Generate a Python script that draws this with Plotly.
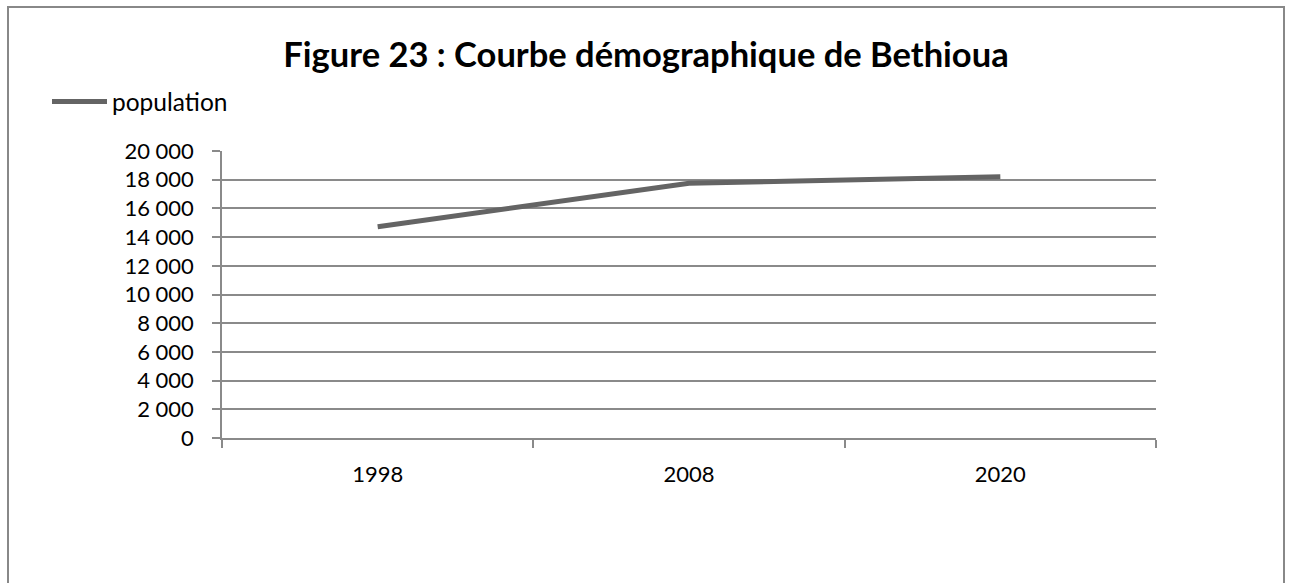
import plotly.graph_objects as go

years = ["1998", "2008", "2020"]
population = [14720, 17750, 18200]
y_ticks = [0, 2000, 4000, 6000, 8000, 10000, 12000, 14000, 16000, 18000, 20000]

W, H = 1291, 583
L, R, T, B = 222, 135, 151, 145
pw, ph = W - L - R, H - T - B

def px_x(p):
    return (p - L) / pw

def px_y(p):
    return (H - B - p) / ph

FONT = "Lato"
GRID = "#8a8a8a"

fig = go.Figure()
fig.add_trace(go.Scatter(
    x=years, y=population, mode="lines", name="population",
    line=dict(color="#646464", width=5),
))

fig.update_layout(
    width=W, height=H,
    margin=dict(l=L, r=R, t=T, b=B),
    paper_bgcolor="white", plot_bgcolor="white",
    separators=", ",
    title=dict(
        text="<b>Figure 23 : Courbe démographique de Bethioua</b>",
        font=dict(family=FONT, size=34.5, color="black"),
        xref="container", x=646 / W, xanchor="center",
        yref="container", y=1 - 55 / H, yanchor="middle",
    ),
    showlegend=True,
    legend=dict(
        x=px_x(47), y=px_y(79), xanchor="left", yanchor="top",
        font=dict(family=FONT, size=24.5, color="black"),
        bgcolor="rgba(0,0,0,0)", itemwidth=55,
    ),
    font=dict(family=FONT, size=22, color="black"),
    xaxis=dict(
        type="category", range=[-0.5, 2.5],
        showgrid=False, showline=True, linecolor=GRID, linewidth=1.5,
        ticks="outside", tickson="boundaries", ticklen=8, tickcolor=GRID,
        tickwidth=1.5,
        ticklabelstandoff=16,
        tickfont=dict(family=FONT, size=22, color="black"),
        zeroline=False,
    ),
    yaxis=dict(
        range=[0, 20000], tickvals=y_ticks, tickformat=",d",
        showgrid=True, gridcolor=GRID, gridwidth=1.5,
        showline=True, linecolor=GRID, linewidth=1.5,
        ticks="outside", ticklen=8, tickcolor=GRID, tickwidth=1.5,
        ticklabelstandoff=14,
        tickfont=dict(family=FONT, size=22, color="black"),
        zeroline=False,
    ),
    shapes=[dict(
        type="rect", xref="paper", yref="paper",
        x0=px_x(8), x1=px_x(1284), y0=px_y(640), y1=px_y(7),
        line=dict(color="#888888", width=2), fillcolor="rgba(0,0,0,0)",
        layer="below",
    )],
)

fig.write_html(
    "out.html",
    config={"displayModeBar": False},
    post_script="document.body.style.margin='0';document.body.style.padding='0';",
)
